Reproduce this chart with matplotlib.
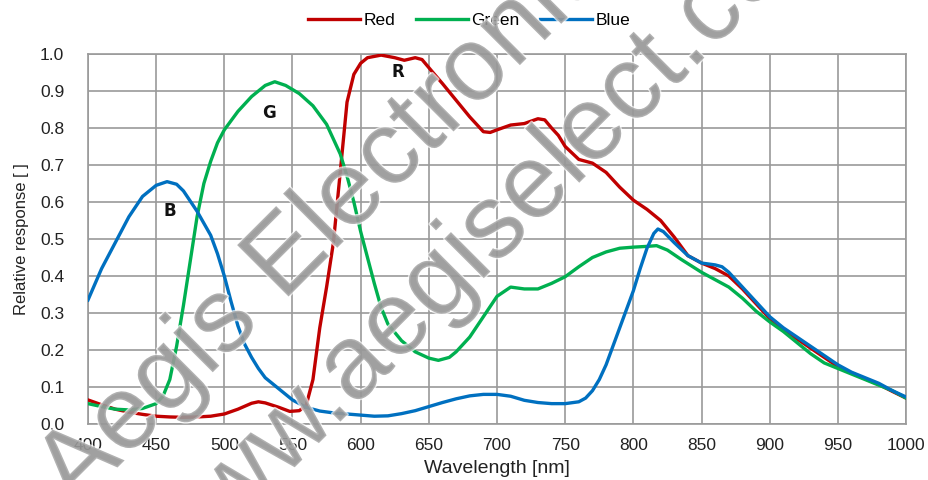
import matplotlib
matplotlib.use('Agg')
import matplotlib.pyplot as plt
import matplotlib.patheffects as pe

# spectral response (wavelength nm, relative response)
blue_nm = [400, 410, 420, 430, 440, 450, 458, 465, 470, 480, 490, 495, 500, 505, 510,
           515, 520, 525, 530, 540, 550, 560, 570, 580, 590, 600, 610, 620, 630, 640,
           650, 660, 670, 680, 690, 700, 710, 720, 730, 740, 750, 760, 765, 770, 775,
           780, 785, 790, 795, 800, 805, 810, 815, 818, 822, 830, 840, 850, 860, 865,
           870, 880, 890, 900, 910, 920, 930, 940, 950, 960, 970, 980, 990, 1000]
blue = [0.335, 0.42, 0.49, 0.56, 0.615, 0.645, 0.655, 0.648, 0.63, 0.575, 0.51, 0.46, 0.40, 0.33, 0.265,
        0.215, 0.18, 0.15, 0.125, 0.095, 0.065, 0.045, 0.035, 0.03, 0.027, 0.024, 0.021, 0.022, 0.028, 0.036,
        0.047, 0.058, 0.068, 0.076, 0.08, 0.08, 0.075, 0.064, 0.058, 0.055, 0.055, 0.06, 0.07, 0.09, 0.12,
        0.16, 0.21, 0.26, 0.31, 0.36, 0.42, 0.475, 0.515, 0.527, 0.52, 0.49, 0.455, 0.435, 0.43, 0.425,
        0.41, 0.37, 0.33, 0.29, 0.26, 0.235, 0.21, 0.185, 0.16, 0.14, 0.125, 0.11, 0.09, 0.073]

green_nm = [400, 410, 420, 430, 440, 450, 455, 460, 465, 470, 475, 480, 485, 490, 495,
            500, 510, 520, 530, 537, 545, 555, 565, 575, 585, 590, 595, 600, 605, 610,
            615, 620, 630, 640, 650, 657, 665, 670, 680, 690, 700, 710, 720, 730, 740,
            750, 760, 770, 780, 790, 800, 810, 817, 825, 835, 850, 860, 870, 880, 890,
            900, 910, 920, 930, 940, 950, 960, 970, 980, 990, 1000]
green = [0.055, 0.047, 0.04, 0.038, 0.042, 0.055, 0.075, 0.12, 0.21, 0.32, 0.44, 0.56, 0.65, 0.71, 0.76,
         0.795, 0.845, 0.885, 0.915, 0.925, 0.915, 0.893, 0.86, 0.81, 0.73, 0.67, 0.60, 0.52, 0.45, 0.38,
         0.315, 0.27, 0.225, 0.195, 0.178, 0.172, 0.18, 0.195, 0.235, 0.29, 0.345, 0.37, 0.365, 0.365, 0.38,
         0.398, 0.425, 0.45, 0.465, 0.475, 0.478, 0.48, 0.482, 0.47, 0.445, 0.41, 0.39, 0.37, 0.34, 0.305,
         0.276, 0.25, 0.22, 0.19, 0.165, 0.15, 0.135, 0.12, 0.105, 0.09, 0.07]

red_nm = [400, 410, 420, 430, 440, 450, 460, 470, 480, 490, 500, 510, 520, 525, 530,
          540, 548, 555, 560, 565, 570, 575, 580, 585, 590, 595, 600, 605, 615, 625,
          632, 640, 645, 653, 660, 670, 680, 690, 695, 700, 710, 720, 730, 735, 740,
          745, 750, 760, 770, 780, 790, 800, 810, 820, 830, 840, 850, 860, 870, 880,
          890, 900, 910, 920, 930, 940, 950, 960, 970, 980, 990, 1000]
red = [0.065, 0.052, 0.04, 0.032, 0.026, 0.021, 0.019, 0.018, 0.019, 0.021, 0.027, 0.04, 0.056, 0.06, 0.057,
       0.045, 0.034, 0.036, 0.05, 0.12, 0.26, 0.37, 0.49, 0.68, 0.87, 0.945, 0.975, 0.99, 0.997, 0.99,
       0.983, 0.99, 0.985, 0.95, 0.92, 0.875, 0.83, 0.79, 0.788, 0.795, 0.808, 0.812, 0.825, 0.822, 0.80,
       0.78, 0.75, 0.715, 0.705, 0.68, 0.64, 0.605, 0.58, 0.55, 0.505, 0.455, 0.435, 0.42, 0.40, 0.365,
       0.325, 0.285, 0.255, 0.23, 0.205, 0.18, 0.155, 0.138, 0.122, 0.107, 0.088, 0.07]

# in-plot channel letters: (text, nm, response)
letters = [('R', 627, 0.95), ('G', 533, 0.84), ('B', 460, 0.575)]

plt.rcParams['font.family'] = ['Liberation Sans', 'DejaVu Sans']

fig = plt.figure(figsize=(9.29, 4.8), dpi=100)
ax = fig.add_axes([0.0947, 0.1167, 0.8806, 0.7708])

ax.plot(red_nm, red, color='#C00000', lw=2.4, label='Red', zorder=3)
ax.plot(green_nm, green, color='#00B050', lw=2.4, label='Green', zorder=3)
ax.plot(blue_nm, blue, color='#0070C0', lw=2.4, label='Blue', zorder=4)

for t, x, y in letters:
    ax.text(x, y, t, fontsize=12, fontweight='bold', ha='center', va='center',
            family=['DejaVu Sans'], color='#111111')

ax.set_xlim(400, 1000)
ax.set_ylim(0, 1.0)
ax.set_xticks(range(400, 1001, 50))
ax.set_yticks([i / 10 for i in range(11)])
ax.set_yticklabels(['%.1f' % (i / 10) for i in range(11)])
ax.grid(True, color='#9a9a9a', lw=1.2)
ax.set_axisbelow(True)
for s in ax.spines.values():
    s.set_color('#9a9a9a')
    s.set_linewidth(1.2)
ax.tick_params(length=0, labelsize=12.5, colors='#222222')
ax.tick_params(axis='y', pad=17)
ax.tick_params(axis='x', pad=10)

ax.set_xlabel('Wavelength [nm]', fontsize=14, labelpad=5, color='#222222')
ax.set_ylabel('Relative response [ ]', fontsize=12, labelpad=8, color='#222222')

fig.legend(loc='upper center', bbox_to_anchor=(0.505, 1.005), ncol=3, frameon=False,
           fontsize=12.5, handlelength=3.0, handletextpad=0.2, columnspacing=1.2)

# watermark
wm = dict(fontsize=76, color='#989898', alpha=0.7, rotation=45, rotation_mode='anchor',
          ha='left', va='baseline', zorder=10,
          path_effects=[pe.withStroke(linewidth=2, foreground='white')])
fig.text(0.0807, -0.0625, 'Aegis Electronic Group', **wm)
fig.text(0.1894, -0.2208, 'www.aegiselect.com', **wm)

fig.savefig('out.png', dpi=100)
